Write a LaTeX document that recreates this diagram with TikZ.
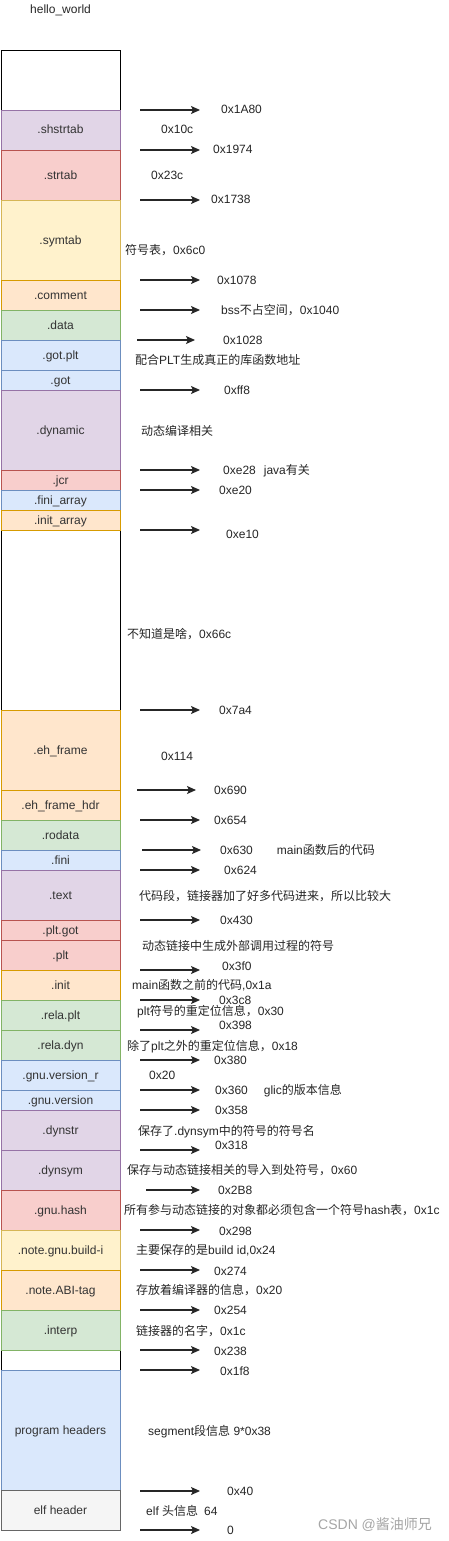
\documentclass[tikz,border=0pt]{standalone}
\usepackage{fontspec}
\setmainfont{Liberation Sans}
\newfontfamily\zhfont{Noto Sans CJK SC}
\newcommand{\zh}[1]{{\zhfont #1}}
\usetikzlibrary{arrows.meta}
\definecolor{purpfill}{HTML}{E1D5E7}
\definecolor{purpline}{HTML}{9673A6}
\definecolor{redfill}{HTML}{F8CECC}
\definecolor{redline}{HTML}{B85450}
\definecolor{yelfill}{HTML}{FFF2CC}
\definecolor{yelline}{HTML}{D6B656}
\definecolor{orafill}{HTML}{FFE6CC}
\definecolor{oraline}{HTML}{D79B00}
\definecolor{grnfill}{HTML}{D5E8D4}
\definecolor{grnline}{HTML}{82B366}
\definecolor{blufill}{HTML}{DAE8FC}
\definecolor{bluline}{HTML}{6C8EBF}
\definecolor{gryfill}{HTML}{F5F5F5}
\definecolor{gryline}{HTML}{666666}

\begin{document}
\begin{tikzpicture}[x=1pt, y=-1pt, >={Stealth[length=9pt,width=8pt,inset=2pt]}, font=\fontsize{12}{14}\selectfont]
    \tikzstyle{sec} = [rectangle, anchor=north west, minimum width=119pt, inner sep=0pt, outer sep=0pt, text height=9pt, text depth=1pt, line width=0.8pt, text=black!80]
    \tikzstyle{purple} = [sec, draw=purpline, fill=purpfill]
    \tikzstyle{red} = [sec, draw=redline, fill=redfill]
    \tikzstyle{yellow} = [sec, draw=yelline, fill=yelfill]
    \tikzstyle{orange} = [sec, draw=oraline, fill=orafill]
    \tikzstyle{green} = [sec, draw=grnline, fill=grnfill]
    \tikzstyle{blue} = [sec, draw=bluline, fill=blufill]
    \tikzstyle{grey} = [sec, draw=gryline, fill=gryfill]
    \tikzstyle{plain} = [sec, draw=black, line width=0.9pt]
    \tikzstyle{line} = [draw, ->, line width=1.2pt, black!85]
    \tikzstyle{note} = [anchor=west, inner sep=0pt, text height=9pt, text depth=1pt, text=black!85]

    \fill [white] (0,0) rectangle (448,1541);
    \useasboundingbox (0,0) rectangle (448,1541);

    \node [note] (title) at (30,10) {hello\_world};

    % sections of the file, top to bottom
    \foreach \ya/\yb/\kind/\txt [count=\i] in {
        50/110/plain/{}, 530/710/plain/{}, 1350/1370/plain/{},
        110/150/purple/.shstrtab, 150/200/red/.strtab,
        200/280/yellow/.symtab, 280/310/orange/.comment, 310/340/green/.data,
        340/370/blue/.got.plt, 370/390/blue/.got, 390/470/purple/.dynamic,
        470/490/red/.jcr, 490/510/blue/.fini\_array, 510/530/orange/.init\_array,
        710/790/orange/.eh\_frame, 790/820/orange/.eh\_frame\_hdr,
        820/850/green/.rodata, 850/870/blue/.fini, 870/920/purple/.text,
        920/940/red/.plt.got, 940/970/red/.plt, 970/1000/orange/.init,
        1000/1030/green/.rela.plt, 1030/1060/green/.rela.dyn,
        1060/1090/blue/.gnu.version\_r, 1090/1110/blue/.gnu.version,
        1110/1150/purple/.dynstr, 1150/1190/purple/.dynsym, 1190/1230/red/.gnu.hash,
        1230/1270/yellow/.note.gnu.build-i, 1270/1310/orange/.note.ABI-tag,
        1310/1350/green/.interp,
        1370/1490/blue/program headers, 1490/1530/grey/elf header} {
        \node [\kind, minimum height=\yb-\ya] (s\i) at (1,\ya) {\txt};
    }

    % offset arrows
    \foreach \xa/\xb/\y [count=\i] in {
        140/200/110, 140/200/150, 140/200/200, 140/200/280, 140/200/310,
        137/195/340, 140/200/390, 140/200/470, 140/200/490, 140/200/530,
        140/200/710, 137/196/790, 140/200/820, 142/201/850, 140/200/870,
        140/200/920, 140/200/970, 140/200/1000, 140/200/1030, 140/200/1060,
        140/200/1090, 140/200/1110, 140/200/1150, 146/200/1190, 140/200/1230,
        140/200/1270, 140/200/1310, 140/200/1350, 140/200/1370, 140/200/1491,
        140/200/1530} {
        \coordinate (p\i) at (\xa,\y);
        \coordinate (q\i) at (\xb,\y);
        \path [line] (p\i) -- (q\i);
    }

    % offsets and remarks
    \foreach \x/\y/\txt [count=\i] in {
        221/110/{0x1A80}, 161/130/{0x10c}, 213/150/{0x1974}, 151/175/{0x23c},
        211/200/{0x1738}, 125/250/{\zh{符号表，}0x6c0}, 217/280/{0x1078},
        221/310/{bss\zh{不占空间，}0x1040}, 223/340/{0x1028},
        135/360/{\zh{配合}PLT\zh{生成真正的库函数地址}}, 224/390/{0xff8},
        141/431/{\zh{动态编译相关}}, 223/470/{0xe28\hspace{8pt}java\zh{有关}},
        219/490/{0xe20}, 226/534/{0xe10}, 127/634/{\zh{不知道是啥，}0x66c},
        219/710/{0x7a4}, 161/756/{0x114}, 214/790/{0x690}, 214/820/{0x654},
        220/850/{0x630\hspace{24pt}main\zh{函数后的代码}}, 224/870/{0x624},
        139/896/{\zh{代码段，链接器加了好多代码进来，所以比较大}}, 220/920/{0x430},
        142/946/{\zh{动态链接中生成外部调用过程的符号}}, 222/966/{0x3f0},
        132/985/{main\zh{函数之前的代码},0x1a}, 219/1000/{0x3c8},
        137/1011/{plt\zh{符号的重定位信息，}0x30}, 219/1025/{0x398},
        127/1046/{\zh{除了}plt\zh{之外的重定位信息，}0x18}, 214/1060/{0x380},
        149/1075/{0x20}, 215/1090/{0x360\hspace{16pt}glic\zh{的版本信息}},
        215/1110/{0x358}, 138/1131/{\zh{保存了}.dynsym\zh{中的符号的符号名}},
        215/1145/{0x318}, 127/1170/{\zh{保存与动态链接相关的导入到处符号，}0x60},
        218/1190/{0x2B8}, 124/1210/{\zh{所有参与动态链接的对象都必须包含一个符号}hash\zh{表，}0x1c},
        219/1231/{0x298}, 136/1250/{\zh{主要保存的是}build id,0x24},
        214/1271/{0x274}, 136/1290/{\zh{存放着编译器的信息，}0x20},
        214/1310/{0x254}, 136/1331/{\zh{链接器的名字，}0x1c},
        214/1351/{0x238}, 220/1371/{0x1f8}, 148/1431/{segment\zh{段信息} 9*0x38},
        227/1491/{0x40}, 146/1511/{elf \zh{头信息}\hspace{6pt}64}, 227/1530/{0}} {
        \node [note] (t\i) at (\x,\y) {\txt};
    }

    \node [note, text=black!35, font=\fontsize{14}{16}\selectfont] (mark) at (318,1525) {CSDN @\zh{酱油师兄}};
\end{tikzpicture}
\end{document}
